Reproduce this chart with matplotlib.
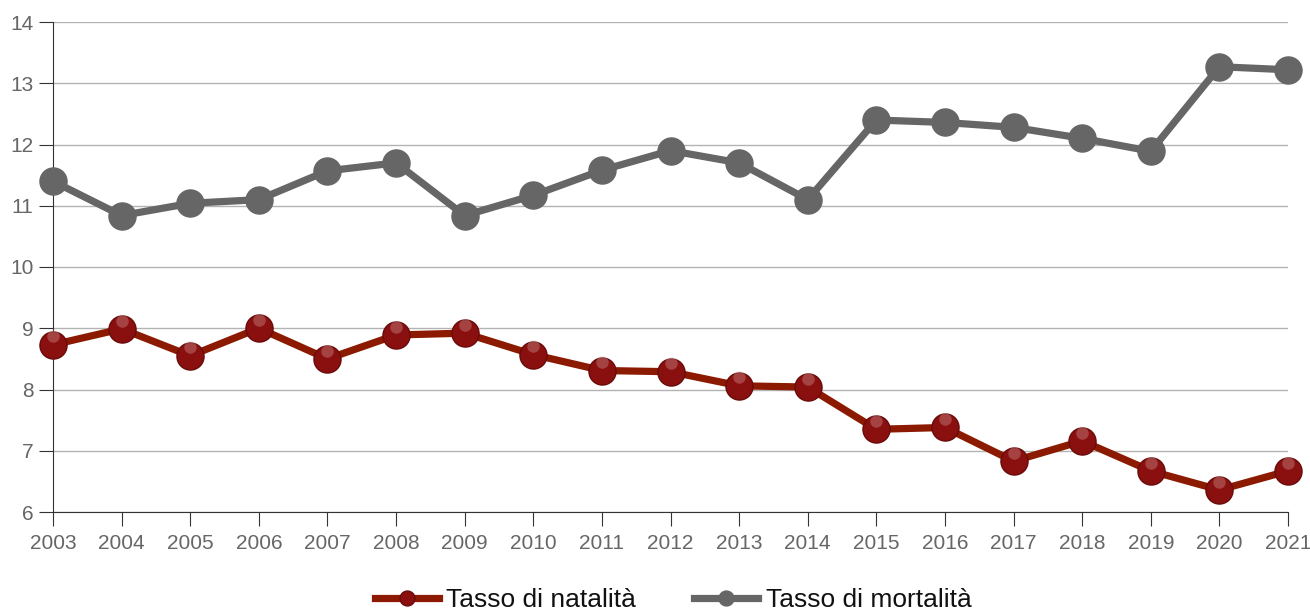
import matplotlib.pyplot as plt
from matplotlib.transforms import offset_copy

# Dati
anni = list(range(2003, 2022))
natalita = [8.73, 8.99, 8.55, 9.0, 8.5, 8.89, 8.92, 8.57, 8.31, 8.29,
            8.06, 8.04, 7.35, 7.38, 6.83, 7.16, 6.67, 6.36, 6.67]
mortalita = [11.4, 10.84, 11.04, 11.1, 11.57, 11.7, 10.84, 11.17, 11.58, 11.9,
             11.7, 11.1, 12.4, 12.36, 12.28, 12.1, 11.89, 13.27, 13.22]
y_ticks = [6, 7, 8, 9, 10, 11, 12, 13, 14]

plt.rcParams['font.family'] = ['Liberation Sans', 'DejaVu Sans']

fig = plt.figure(figsize=(13.1, 6.14), dpi=100)
ax = fig.add_axes([53 / 1310, 1 - 512 / 614, 1235 / 1310, 490 / 614])

nat, = ax.plot(anni, natalita, color='#8b1a00', linewidth=5.2, marker='o', markersize=19.5,
               markerfacecolor='#8a1010', markeredgecolor='#6a0a0a', markeredgewidth=1,
               label='Tasso di natalità', clip_on=False, zorder=3)
# riflesso in alto sui marcatori
shine = offset_copy(ax.transData, fig=fig, x=0, y=6, units='points')
ax.plot(anni, natalita, linestyle='none', marker='o', markersize=9,
        markerfacecolor='#d9a0a0', markeredgewidth=0, alpha=0.35,
        transform=shine, clip_on=False, zorder=4)
mor, = ax.plot(anni, mortalita, color='#666666', linewidth=5.2, marker='o', markersize=19.5,
               markerfacecolor='#666666', markeredgecolor='#666666',
               label='Tasso di mortalità', clip_on=False, zorder=3)

ax.set_xlim(2003, 2021)
ax.set_ylim(6, 14)
ax.set_xticks(anni)
ax.set_yticks(y_ticks)
ax.grid(axis='y', color='#b3b3b3', linewidth=1)
ax.set_axisbelow(True)

for s in ['top', 'right']:
    ax.spines[s].set_visible(False)
ax.spines['left'].set_color('#333333')
ax.spines['bottom'].set_color('#333333')
ax.tick_params(axis='both', direction='out', length=10, color='#333333',
               labelcolor='#666666', labelsize=15)
ax.tick_params(axis='x', pad=6)
ax.tick_params(axis='y', pad=4)

leg = fig.legend([nat, mor], ['Tasso di natalità', 'Tasso di mortalità'],
                 loc='center', bbox_to_anchor=(0.514, 1 - 600 / 614), ncol=2,
                 frameon=False, fontsize=19, handlelength=2.4, markerscale=0.55,
                 columnspacing=2.2, handletextpad=0.3)
for t in leg.get_texts():
    t.set_color('#111111')

fig.savefig('out.png', dpi=100)
